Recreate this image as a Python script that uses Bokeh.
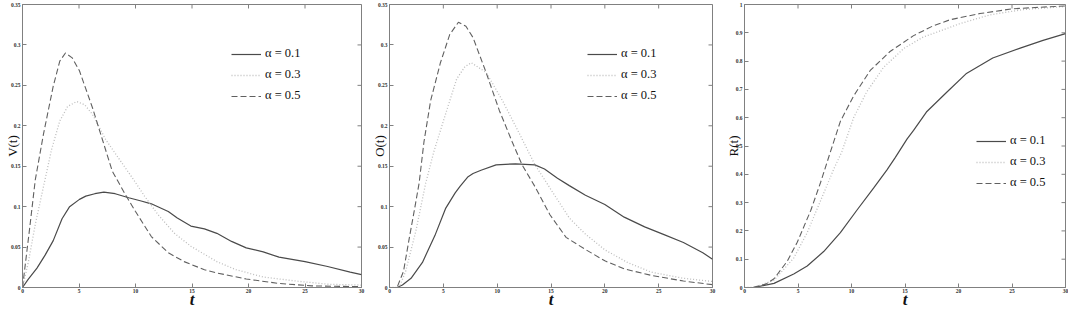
from bokeh.plotting import figure
from bokeh.layouts import row
from bokeh.models import Range1d, FixedTicker, Legend, LegendItem, NumeralTickFormatter
from bokeh.embed import file_html
from bokeh.resources import INLINE

# ---------------- data ----------------
alpha_labels = ["\u03b1 = 0.1", "\u03b1 = 0.3", "\u03b1 = 0.5"]

# Panel 1: V(t)
v_t1 = [0, 0.5, 1.28, 2.0, 2.72, 3.5, 4.17, 5.04, 5.6, 6.4, 7.2, 8.2, 9.4, 10.5, 11.4, 12.9, 13.7,
        14.9, 16.1, 17.2, 18.5, 19.8, 21.3, 22.7, 25, 27, 29, 30]
v_a1 = [0, 0.01, 0.024, 0.04, 0.058, 0.085, 0.1, 0.109, 0.113, 0.116, 0.118, 0.116, 0.111, 0.107,
        0.1035, 0.094, 0.086, 0.076, 0.0725, 0.067, 0.057, 0.049, 0.044, 0.0375, 0.032, 0.026, 0.019, 0.016]
v_t3 = [0, 0.5, 1.13, 1.86, 2.58, 3.3, 4.0, 4.8, 5.5, 6.2, 7.36, 8.5, 9.7, 10.8, 12, 13.45, 14.9,
        17.2, 18.9, 21.3, 24.2, 27.1, 30]
v_a3 = [0, 0.03, 0.078, 0.125, 0.171, 0.206, 0.224, 0.23, 0.226, 0.214, 0.183, 0.16, 0.136, 0.113,
        0.09, 0.067, 0.051, 0.032, 0.022, 0.013, 0.008, 0.004, 0.003]
v_t5 = [0, 0.64, 1.13, 1.86, 2.72, 3.3, 3.8, 4.4, 5.04, 6.2, 7.07, 7.94, 9.1, 10.0, 11.4, 12.9, 14.3,
        16.1, 17.2, 19.8, 22.7, 25.6, 30]
v_a5 = [0, 0.074, 0.133, 0.19, 0.249, 0.28, 0.29, 0.284, 0.268, 0.222, 0.183, 0.144, 0.115, 0.094,
        0.063, 0.043, 0.032, 0.022, 0.018, 0.0105, 0.005, 0.002, 0.001]

# Panel 2: O(t)
o_t1 = [0, 0.7, 1.2, 2.0, 3.06, 4.27, 5.2, 6.1, 6.55, 7.3, 7.76, 8.5, 9.9, 11.7, 13.5, 14.4, 15.6,
        16.7, 18.2, 20, 21.8, 23.7, 25.5, 27.3, 29.1, 30]
o_a1 = [0, 0, 0.003, 0.0114, 0.031, 0.066, 0.0975, 0.117, 0.125, 0.137, 0.141, 0.145, 0.1516, 0.153,
        0.1516, 0.1465, 0.135, 0.126, 0.114, 0.1026, 0.087, 0.075, 0.0654, 0.0556, 0.043, 0.035]
o_t3 = [0, 0.9, 1.5, 2.45, 3.36, 4.12, 5.03, 6.24, 7.0, 7.6, 8.97, 10.5, 12, 13.5, 15.0, 16.7, 18.2,
        20, 22.1, 24.3, 27.3, 30]
o_a3 = [0, 0, 0.02, 0.07, 0.129, 0.168, 0.207, 0.258, 0.273, 0.278, 0.266, 0.231, 0.192, 0.152,
        0.121, 0.086, 0.066, 0.0466, 0.031, 0.019, 0.0114, 0.0074]
o_t5 = [0, 0.7, 1.3, 1.85, 2.3, 2.75, 3.2, 3.82, 4.73, 5.6, 6.4, 7.1, 7.76, 8.97, 10.2, 11.4, 12.3,
        13.5, 14.9, 16.4, 18.2, 20, 21.8, 24.3, 27.3, 30]
o_a5 = [0, 0, 0.02, 0.062, 0.095, 0.129, 0.18, 0.231, 0.278, 0.313, 0.328, 0.323, 0.309, 0.266,
        0.219, 0.18, 0.152, 0.125, 0.09, 0.062, 0.047, 0.033, 0.023, 0.015, 0.008, 0.0035]

# Panel 3: R(t)
r_t1 = [0, 0.9, 2.76, 4.6, 5.86, 7.4, 8.96, 10.5, 12.06, 13.3, 14.1, 15.2, 15.8, 17.0, 18.9, 20.7,
        23.2, 25.7, 27.9, 30]
r_a1 = [0, 0, 0.0146, 0.048, 0.076, 0.127, 0.194, 0.273, 0.351, 0.415, 0.46, 0.525, 0.555, 0.62,
        0.69, 0.755, 0.811, 0.845, 0.873, 0.897]
r_t3 = [0, 0.9, 2.76, 4.6, 5.86, 7.1, 8.35, 9.1, 10.2, 11.4, 13.0, 14.9, 16.7, 18.9, 20.1, 22.9, 26, 30]
r_a3 = [0, 0, 0.026, 0.104, 0.194, 0.306, 0.419, 0.48, 0.6, 0.69, 0.778, 0.845, 0.885, 0.915,
        0.932, 0.963, 0.982, 0.993]
r_t5 = [0, 0.8, 2.0, 2.76, 4.0, 4.93, 6.2, 7.1, 7.95, 8.96, 10.2, 11.75, 13.6, 15.8, 17.6, 19.2,
        22, 25.1, 27.5, 30]
r_a5 = [0, 0, 0.012, 0.031, 0.093, 0.16, 0.273, 0.37, 0.47, 0.587, 0.677, 0.767, 0.834, 0.89,
        0.924, 0.946, 0.968, 0.985, 0.99, 0.995]

x_ticks = [0, 5, 10, 15, 20, 25, 30]
vo_ticks = [0, 0.05, 0.1, 0.15, 0.2, 0.25, 0.3, 0.35]
r_ticks = [0, 0.1, 0.2, 0.3, 0.4, 0.5, 0.6, 0.7, 0.8, 0.9, 1.0]

# ---------------- styling ----------------
SERIF = "Liberation Serif"
AXIS_COLOR = "#808080"
HEIGHT = 311
TOP = 4
styles = [
    dict(line_color="#4a4a4a", line_width=1.2, line_dash="solid"),
    dict(line_color="#bdbdbd", line_width=1.3, line_dash="1 2"),
    dict(line_color="#606060", line_width=1.1, line_dash="6 3"),
]


def style_axis(ax, ticks):
    ax.ticker = FixedTicker(ticks=ticks)
    ax.axis_line_color = AXIS_COLOR
    ax.major_tick_line_color = AXIS_COLOR
    ax.major_tick_in = 4
    ax.major_tick_out = 0
    ax.minor_tick_line_color = None
    ax.formatter = NumeralTickFormatter(format="0.[00]")
    ax.major_label_text_font = SERIF
    ax.major_label_text_font_size = "5.5px"
    ax.major_label_text_font_style = "bold"
    ax.major_label_text_color = "#333333"
    ax.major_label_standoff = 2


def make_panel(width, mbl, mbr, ylabel, ymax, yticks, data, legend_xy, ylabel_standoff):
    p = figure(width=width, height=HEIGHT, x_range=Range1d(0, 30), y_range=Range1d(0, ymax),
               output_backend="svg", toolbar_location=None,
               min_border_left=mbl, min_border_right=mbr, min_border_top=TOP, min_border_bottom=0)
    p.grid.visible = False
    p.outline_line_color = AXIS_COLOR
    p.outline_line_width = 1
    p.background_fill_color = "white"
    p.border_fill_color = "white"

    style_axis(p.xaxis[0], x_ticks)
    style_axis(p.yaxis[0], yticks)
    p.xaxis[0].major_label_standoff = 1
    p.xaxis[0].axis_label = "t"
    p.xaxis[0].axis_label_text_font = SERIF
    p.xaxis[0].axis_label_text_font_style = "bold italic"
    p.xaxis[0].axis_label_text_font_size = "17px"
    p.xaxis[0].axis_label_text_color = "#111111"
    p.xaxis[0].axis_label_standoff = -6
    p.yaxis[0].axis_label = ylabel
    p.yaxis[0].axis_label_text_font = SERIF
    p.yaxis[0].axis_label_text_font_style = "normal"
    p.yaxis[0].axis_label_text_font_size = "13px"
    p.yaxis[0].axis_label_text_color = "#111111"
    p.yaxis[0].axis_label_standoff = ylabel_standoff

    # mirrored inward ticks on the top and right frame edges
    frame_w = width - mbl - mbr
    frame_h = HEIGHT - TOP - 24
    dx = 4 * 30 / frame_w
    dy = 4 * ymax / frame_h
    p.segment(x0=[30] * len(yticks), y0=yticks, x1=[30 - dx] * len(yticks), y1=yticks,
              line_color=AXIS_COLOR, line_width=1)
    p.segment(x0=x_ticks, y0=[ymax] * len(x_ticks), x1=x_ticks, y1=[ymax - dy] * len(x_ticks),
              line_color=AXIS_COLOR, line_width=1)

    items = []
    for (tx, ty), lab, st in zip(data, alpha_labels, styles):
        r = p.line(tx, ty, **st)
        items.append(LegendItem(label=lab, renderers=[r]))
    leg = Legend(items=items, location=legend_xy, padding=0, margin=0,
                 background_fill_alpha=0, border_line_color=None,
                 glyph_width=30, glyph_height=12, label_standoff=4, spacing=6,
                 label_text_font=SERIF, label_text_font_size="12.5px",
                 label_text_color="#111111", label_height=12)
    p.add_layout(leg)
    return p


p1 = make_panel(367, 22, 6, "V(t)", 0.35, vo_ticks,
                [(v_t1, v_a1), (v_t3, v_a3), (v_t5, v_a5)], (209, 184), -12)
p2 = make_panel(355, 22, 10, "O(t)", 0.35, vo_ticks,
                [(o_t1, o_a1), (o_t3, o_a3), (o_t5, o_a5)], (198, 184), -12)
p3 = make_panel(346, 22, 3, "R(t)", 1.0, r_ticks,
                [(r_t1, r_a1), (r_t3, r_a3), (r_t5, r_a5)], (232, 97), -8)

layout = row(p1, p2, p3, spacing=0)
open("out.html", "w").write(file_html(layout, INLINE))
